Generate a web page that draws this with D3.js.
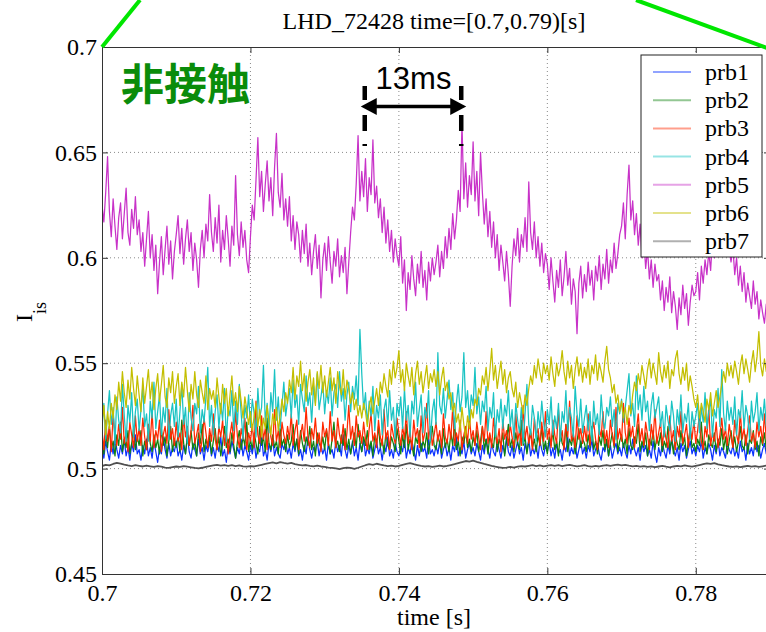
<!DOCTYPE html>
<html>
<head>
<meta charset="utf-8">
<script src="https://cdn.jsdelivr.net/npm/d3@7"></script>
<style>
body { margin: 0; background: #fff; }
svg text { font-family: "Liberation Serif", "Times New Roman", serif; }
</style>
</head>
<body>
<div id="chart"></div>
<script>
// probe names, ticks
var probes = ["prb1", "prb2", "prb3", "prb4", "prb5", "prb6", "prb7"];
var xTicks = [0.7, 0.72, 0.74, 0.76, 0.78];
var xTickLabels = ["0.7", "0.72", "0.74", "0.76", "0.78"];
var yTicks = [0.45, 0.5, 0.55, 0.6, 0.65, 0.7];
var yTickLabels = ["0.45", "0.5", "0.55", "0.6", "0.65", "0.7"];

// every probe array is sampled evenly from 0.7 s to 0.79 s
// (prb1-prb6 every 0.25 ms, prb7 every 0.5 ms)
var tStart = 0.7, tEnd = 0.79;

var prb1 = [
  0.510,0.505,0.513,0.508,0.504,0.512,0.507,0.515,0.509,0.505,0.511,0.507,0.514,0.506,0.510,0.504,0.512,0.508,0.516,0.507,
  0.509,0.504,0.511,0.507,0.514,0.506,0.510,0.505,0.513,0.508,0.503,0.510,0.507,0.515,0.509,0.505,0.512,0.506,0.510,0.508,
  0.513,0.506,0.509,0.504,0.511,0.507,0.516,0.508,0.505,0.512,0.509,0.506,0.514,0.507,0.510,0.504,0.511,0.508,0.513,0.506,
  0.510,0.505,0.512,0.508,0.515,0.506,0.509,0.503,0.511,0.507,0.513,0.509,0.505,0.510,0.507,0.514,0.506,0.511,0.508,0.504,
  0.511,0.507,0.513,0.505,0.510,0.508,0.516,0.506,0.509,0.504,0.512,0.508,0.514,0.506,0.510,0.507,0.505,0.512,0.509,0.513,
  0.507,0.510,0.505,0.512,0.508,0.514,0.506,0.509,0.504,0.511,0.507,0.515,0.509,0.505,0.510,0.508,0.513,0.506,0.511,0.507,
  0.510,0.504,0.512,0.507,0.509,0.505,0.513,0.508,0.511,0.506,0.516,0.509,0.505,0.511,0.507,0.513,0.506,0.510,0.504,0.512,
  0.508,0.514,0.506,0.510,0.507,0.512,0.505,0.509,0.513,0.507,0.510,0.504,0.511,0.508,0.515,0.506,0.509,0.505,0.512,0.508,
  0.506,0.511,0.508,0.514,0.505,0.510,0.507,0.513,0.509,0.504,0.511,0.506,0.512,0.508,0.510,0.505,0.514,0.507,0.509,0.506,
  0.511,0.507,0.513,0.505,0.509,0.512,0.506,0.510,0.504,0.511,0.508,0.515,0.506,0.510,0.507,0.513,0.505,0.509,0.512,0.507,
  0.510,0.506,0.512,0.508,0.504,0.511,0.507,0.514,0.509,0.505,0.512,0.508,0.506,0.513,0.509,0.505,0.511,0.507,0.515,0.508,
  0.506,0.511,0.505,0.509,0.513,0.507,0.510,0.504,0.512,0.508,0.514,0.506,0.510,0.507,0.511,0.505,0.513,0.509,0.506,0.511,
  0.508,0.513,0.506,0.510,0.505,0.512,0.507,0.509,0.504,0.511,0.508,0.515,0.506,0.510,0.507,0.512,0.505,0.509,0.513,0.507,
  0.510,0.505,0.511,0.508,0.514,0.506,0.509,0.512,0.507,0.504,0.510,0.508,0.513,0.506,0.511,0.505,0.509,0.512,0.507,0.510,
  0.506,0.512,0.508,0.505,0.511,0.507,0.514,0.509,0.506,0.510,0.504,0.512,0.508,0.511,0.506,0.509,0.505,0.513,0.507,0.503,
  0.510,0.506,0.512,0.508,0.505,0.511,0.507,0.514,0.509,0.506,0.510,0.504,0.512,0.508,0.511,0.505,0.509,0.513,0.507,0.510,
  0.506,0.511,0.508,0.513,0.505,0.510,0.507,0.512,0.509,0.504,0.511,0.507,0.514,0.506,0.510,0.508,0.505,0.512,0.509,0.507,
  0.511,0.506,0.509,0.505,0.513,0.508,0.510,0.504,0.512,0.507,0.510,0.506,0.514,0.508,0.511,0.505,0.509,0.512,0.507,0.510,
  0.509
];
var prb2 = [
  0.514,0.507,0.517,0.510,0.520,0.509,0.513,0.506,0.516,0.511,0.522,0.508,0.514,0.510,0.518,0.507,0.512,0.519,0.509,0.515,
  0.511,0.518,0.506,0.513,0.509,0.521,0.512,0.508,0.516,0.510,0.514,0.507,0.519,0.511,0.515,0.506,0.513,0.520,0.508,0.514,
  0.510,0.516,0.508,0.523,0.512,0.507,0.515,0.511,0.518,0.509,0.513,0.506,0.517,0.512,0.521,0.508,0.514,0.510,0.516,0.507,
  0.513,0.519,0.509,0.515,0.506,0.512,0.520,0.510,0.514,0.508,0.517,0.511,0.505,0.513,0.518,0.509,0.515,0.511,0.522,0.508,
  0.514,0.509,0.517,0.512,0.507,0.520,0.511,0.515,0.508,0.524,0.512,0.509,0.516,0.510,0.513,0.507,0.519,0.511,0.514,0.508,
  0.516,0.510,0.513,0.521,0.509,0.514,0.507,0.518,0.512,0.508,0.515,0.511,0.520,0.509,0.513,0.506,0.517,0.512,0.510,0.515,
  0.509,0.518,0.512,0.507,0.514,0.522,0.510,0.513,0.508,0.516,0.511,0.519,0.509,0.514,0.507,0.512,0.517,0.510,0.521,0.513,
  0.508,0.515,0.511,0.518,0.509,0.513,0.506,0.516,0.512,0.520,0.510,0.514,0.507,0.517,0.511,0.509,0.515,0.512,0.508,0.519,
  0.513,0.507,0.516,0.510,0.521,0.509,0.514,0.511,0.506,0.515,0.512,0.518,0.508,0.513,0.510,0.517,0.507,0.514,0.520,0.511,
  0.509,0.516,0.512,0.507,0.519,0.510,0.514,0.508,0.517,0.511,0.522,0.509,0.513,0.506,0.515,0.512,0.518,0.510,0.514,0.508,
  0.515,0.511,0.518,0.508,0.513,0.520,0.509,0.514,0.507,0.516,0.512,0.510,0.519,0.508,0.514,0.511,0.517,0.506,0.513,0.521,
  0.510,0.514,0.508,0.517,0.512,0.509,0.523,0.511,0.515,0.507,0.513,0.518,0.510,0.514,0.508,0.516,0.511,0.520,0.509,0.513,
  0.507,0.515,0.511,0.518,0.509,0.513,0.506,0.517,0.512,0.510,0.521,0.508,0.514,0.511,0.516,0.507,0.513,0.519,0.510,0.514,
  0.512,0.508,0.516,0.510,0.520,0.509,0.513,0.507,0.515,0.511,0.518,0.509,0.514,0.506,0.512,0.517,0.510,0.522,0.508,0.513,
  0.516,0.510,0.514,0.507,0.519,0.511,0.509,0.515,0.512,0.521,0.508,0.513,0.510,0.517,0.506,0.514,0.511,0.518,0.509,0.515,
  0.511,0.517,0.508,0.513,0.510,0.520,0.509,0.514,0.507,0.516,0.512,0.509,0.518,0.511,0.515,0.506,0.513,0.519,0.510,0.512,
  0.508,0.514,0.511,0.522,0.509,0.513,0.507,0.516,0.512,0.510,0.517,0.508,0.514,0.511,0.519,0.509,0.515,0.507,0.513,0.518,
  0.510,0.515,0.508,0.513,0.520,0.511,0.509,0.516,0.507,0.514,0.512,0.518,0.509,0.513,0.506,0.515,0.511,0.517,0.509,0.514,
  0.512
];
var prb3 = [
  0.518,0.509,0.523,0.513,0.520,0.508,0.526,0.515,0.511,0.521,0.514,0.529,0.512,0.517,0.508,0.522,0.516,0.510,0.525,0.513,
  0.519,0.511,0.524,0.515,0.509,0.521,0.513,0.527,0.510,0.518,0.514,0.523,0.508,0.516,0.520,0.512,0.528,0.514,0.519,0.511,
  0.522,0.513,0.517,0.509,0.525,0.515,0.520,0.511,0.518,0.530,0.512,0.516,0.521,0.508,0.514,0.524,0.517,0.510,0.519,0.513,
  0.526,0.514,0.509,0.520,0.515,0.523,0.511,0.518,0.507,0.516,0.522,0.512,0.527,0.515,0.510,0.519,0.514,0.524,0.509,0.517,
  0.513,0.521,0.510,0.532,0.516,0.512,0.525,0.514,0.519,0.509,0.523,0.515,0.511,0.528,0.513,0.518,0.510,0.522,0.516,0.512,
  0.520,0.514,0.526,0.511,0.518,0.523,0.509,0.516,0.521,0.513,0.529,0.515,0.510,0.519,0.514,0.524,0.512,0.517,0.508,0.522,
  0.515,0.519,0.511,0.527,0.513,0.518,0.510,0.524,0.516,0.512,0.521,0.509,0.517,0.530,0.514,0.520,0.511,0.525,0.515,0.518,
  0.512,0.522,0.514,0.509,0.519,0.526,0.513,0.517,0.510,0.523,0.515,0.511,0.528,0.514,0.518,0.509,0.521,0.516,0.512,0.524,
  0.517,0.511,0.520,0.514,0.527,0.512,0.518,0.509,0.523,0.515,0.519,0.510,0.525,0.513,0.517,0.531,0.514,0.520,0.511,0.516,
  0.522,0.513,0.518,0.510,0.526,0.515,0.512,0.521,0.514,0.529,0.511,0.517,0.513,0.523,0.509,0.516,0.520,0.512,0.525,0.514,
  0.518,0.511,0.522,0.515,0.509,0.520,0.513,0.527,0.512,0.517,0.510,0.524,0.516,0.512,0.519,0.508,0.523,0.514,0.518,0.511,
  0.521,0.515,0.510,0.526,0.513,0.518,0.511,0.530,0.514,0.520,0.512,0.517,0.509,0.524,0.515,0.519,0.511,0.522,0.513,0.527,
  0.514,0.519,0.510,0.523,0.516,0.512,0.528,0.514,0.518,0.509,0.521,0.515,0.532,0.513,0.517,0.510,0.525,0.514,0.519,0.512,
  0.520,0.513,0.526,0.511,0.517,0.522,0.514,0.509,0.519,0.515,0.527,0.512,0.518,0.510,0.523,0.516,0.511,0.529,0.514,0.519,
  0.513,0.531,0.517,0.512,0.524,0.515,0.520,0.510,0.518,0.526,0.513,0.519,0.511,0.522,0.516,0.509,0.521,0.514,0.528,0.512,
  0.517,0.522,0.511,0.519,0.514,0.510,0.525,0.513,0.518,0.509,0.520,0.515,0.527,0.512,0.516,0.521,0.510,0.519,0.514,0.523,
  0.512,0.518,0.526,0.513,0.509,0.520,0.515,0.529,0.511,0.517,0.513,0.522,0.510,0.516,0.524,0.514,0.519,0.511,0.521,0.515,
  0.510,0.523,0.516,0.512,0.527,0.514,0.519,0.511,0.518,0.525,0.513,0.517,0.510,0.522,0.515,0.520,0.512,0.526,0.514,0.518,
  0.516
];
var prb4 = [
  0.519,0.531,0.514,0.526,0.537,0.521,0.529,0.512,0.534,0.523,0.517,0.540,0.525,0.513,0.530,0.522,0.536,0.515,0.527,0.533,
  0.518,0.528,0.539,0.520,0.526,0.513,0.532,0.524,0.541,0.519,0.527,0.535,0.516,0.529,0.522,0.538,0.514,0.525,0.531,0.520,
  0.533,0.515,0.527,0.540,0.521,0.529,0.512,0.536,0.524,0.518,0.531,0.526,0.539,0.517,0.528,0.522,0.534,0.548,0.520,0.530,
  0.516,0.527,0.535,0.519,0.531,0.523,0.538,0.513,0.529,0.525,0.537,0.518,0.532,0.521,0.540,0.526,0.514,0.530,0.524,0.535,
  0.520,0.533,0.526,0.515,0.538,0.524,0.529,0.549,0.522,0.531,0.517,0.536,0.527,0.547,0.523,0.534,0.519,0.530,0.541,0.525,
  0.532,0.538,0.524,0.542,0.529,0.535,0.521,0.540,0.533,0.527,0.544,0.530,0.536,0.522,0.539,0.531,0.545,0.528,0.534,0.541,
  0.526,0.537,0.531,0.543,0.525,0.536,0.540,0.529,0.546,0.532,0.538,0.523,0.535,0.541,0.527,0.539,0.533,0.544,0.530,0.566,
  0.545,0.528,0.536,0.521,0.532,0.525,0.539,0.518,0.530,0.524,0.535,0.516,0.528,0.533,0.520,0.537,0.523,0.529,0.514,0.531,
  0.525,0.534,0.519,0.538,0.523,0.530,0.515,0.532,0.526,0.541,0.520,0.528,0.535,0.517,0.529,0.524,0.537,0.513,0.527,0.533,
  0.521,0.555,0.530,0.526,0.538,0.524,0.533,0.542,0.528,0.536,0.519,0.531,0.540,0.527,0.534,0.555,0.529,0.537,0.523,0.535,
  0.530,0.548,0.526,0.534,0.521,0.532,0.527,0.539,0.518,0.529,0.524,0.536,0.515,0.528,0.522,0.533,0.519,0.530,0.525,0.537,
  0.520,0.528,0.514,0.531,0.523,0.517,0.529,0.512,0.526,0.540,0.521,0.516,0.530,0.524,0.513,0.527,0.519,0.532,0.522,0.515,
  0.528,0.521,0.534,0.516,0.525,0.519,0.531,0.513,0.527,0.522,0.537,0.518,0.529,0.524,0.515,0.539,0.526,0.520,0.533,0.517,
  0.524,0.530,0.518,0.527,0.513,0.532,0.521,0.526,0.516,0.535,0.523,0.519,0.529,0.525,0.534,0.520,0.528,0.514,0.531,0.526,
  0.533,0.522,0.529,0.537,0.545,0.525,0.531,0.520,0.544,0.528,0.535,0.523,0.539,0.527,0.532,0.518,0.530,0.536,0.524,0.529,
  0.534,0.520,0.527,0.515,0.530,0.523,0.518,0.532,0.525,0.513,0.528,0.521,0.535,0.517,0.526,0.522,0.531,0.514,0.527,0.520,
  0.525,0.531,0.517,0.529,0.522,0.536,0.519,0.527,0.533,0.515,0.528,0.524,0.538,0.520,0.547,0.526,0.518,0.532,0.523,0.529,
  0.521,0.534,0.516,0.528,0.524,0.537,0.519,0.530,0.525,0.514,0.532,0.522,0.527,0.536,0.518,0.529,0.523,0.533,0.520,0.528,
  0.525
];
var prb5 = [
  0.625,0.617,0.631,0.648,0.622,0.610,0.628,0.615,0.604,0.619,0.626,0.609,0.621,0.633,0.612,0.606,0.623,0.614,0.629,0.611,
  0.618,0.603,0.612,0.596,0.609,0.622,0.600,0.611,0.594,0.606,0.583,0.598,0.610,0.592,0.604,0.615,0.597,0.608,0.590,0.603,
  0.611,0.620,0.602,0.614,0.597,0.609,0.618,0.603,0.612,0.594,0.607,0.599,0.586,0.604,0.613,0.600,0.616,0.608,0.630,0.612,
  0.603,0.619,0.607,0.625,0.598,0.613,0.604,0.620,0.609,0.596,0.615,0.606,0.639,0.611,0.601,0.617,0.605,0.613,0.599,0.593,
  0.610,0.625,0.618,0.637,0.657,0.629,0.641,0.622,0.635,0.646,0.627,0.638,0.620,0.643,0.659,0.631,0.624,0.640,0.618,0.628,
  0.615,0.629,0.608,0.620,0.604,0.617,0.611,0.598,0.613,0.602,0.616,0.596,0.607,0.592,0.603,0.611,0.595,0.606,0.581,0.599,
  0.607,0.594,0.610,0.598,0.588,0.603,0.596,0.609,0.591,0.601,0.593,0.605,0.583,0.598,0.612,0.624,0.618,0.635,0.658,0.627,
  0.641,0.629,0.647,0.622,0.638,0.630,0.656,0.626,0.634,0.619,0.628,0.612,0.624,0.607,0.618,0.603,0.613,0.598,0.609,0.601,
  0.596,0.610,0.588,0.599,0.575,0.593,0.585,0.601,0.590,0.582,0.597,0.588,0.603,0.586,0.594,0.580,0.598,0.589,0.600,0.592,
  0.598,0.606,0.591,0.603,0.595,0.610,0.600,0.614,0.604,0.621,0.609,0.618,0.632,0.622,0.664,0.628,0.645,0.624,0.639,0.630,
  0.655,0.627,0.641,0.620,0.650,0.631,0.616,0.628,0.610,0.622,0.605,0.617,0.600,0.611,0.594,0.606,0.598,0.589,0.603,0.592,
  0.577,0.596,0.609,0.601,0.614,0.598,0.611,0.605,0.619,0.603,0.636,0.612,0.604,0.617,0.600,0.610,0.596,0.607,0.593,0.602,
  0.597,0.585,0.600,0.589,0.579,0.594,0.586,0.599,0.582,0.591,0.603,0.587,0.595,0.578,0.590,0.584,0.564,0.588,0.596,0.581,
  0.592,0.584,0.598,0.587,0.594,0.580,0.596,0.589,0.601,0.585,0.597,0.590,0.604,0.588,0.599,0.593,0.607,0.595,0.602,0.611,
  0.615,0.626,0.609,0.630,0.644,0.618,0.627,0.611,0.621,0.606,0.616,0.600,0.609,0.595,0.604,0.590,0.599,0.586,0.597,0.589,
  0.592,0.580,0.589,0.575,0.586,0.579,0.591,0.574,0.584,0.577,0.566,0.581,0.573,0.587,0.576,0.583,0.568,0.579,0.587,0.582,
  0.584,0.593,0.580,0.596,0.588,0.599,0.592,0.603,0.594,0.609,0.600,0.612,0.603,0.617,0.606,0.612,0.601,0.615,0.604,0.598,
  0.605,0.592,0.600,0.587,0.596,0.584,0.593,0.579,0.588,0.582,0.576,0.589,0.578,0.584,0.571,0.580,0.574,0.569,0.578,0.572,
  0.573
];
var prb6 = [
  0.521,0.530,0.516,0.527,0.519,0.531,0.524,0.535,0.528,0.541,0.532,0.546,0.536,0.529,0.542,0.533,0.548,0.538,0.530,0.544,
  0.535,0.527,0.543,0.531,0.539,0.547,0.533,0.541,0.528,0.538,0.545,0.532,0.540,0.549,0.534,0.529,0.543,0.536,0.546,0.531,
  0.539,0.545,0.530,0.541,0.534,0.548,0.537,0.527,0.540,0.533,0.546,0.535,0.529,0.542,0.536,0.531,0.544,0.528,0.538,0.533,
  0.537,0.529,0.543,0.534,0.526,0.540,0.531,0.538,0.525,0.535,0.544,0.530,0.536,0.527,0.539,0.532,0.524,0.534,0.528,0.521,
  0.527,0.518,0.525,0.531,0.520,0.528,0.515,0.524,0.519,0.530,0.522,0.516,0.526,0.521,0.529,0.518,0.525,0.533,0.527,0.536,
  0.531,0.542,0.536,0.548,0.533,0.544,0.539,0.551,0.537,0.545,0.532,0.541,0.547,0.535,0.543,0.530,0.546,0.538,0.549,0.536,
  0.544,0.534,0.541,0.548,0.537,0.543,0.531,0.546,0.539,0.535,0.547,0.533,0.542,0.538,0.531,0.536,0.528,0.533,0.525,0.530,
  0.524,0.531,0.527,0.520,0.529,0.534,0.526,0.532,0.538,0.530,0.541,0.536,0.545,0.539,0.534,0.547,0.540,0.551,0.543,0.548,
  0.556,0.541,0.547,0.537,0.550,0.544,0.539,0.548,0.535,0.545,0.551,0.540,0.546,0.536,0.543,0.549,0.538,0.545,0.541,0.547,
  0.539,0.546,0.535,0.543,0.548,0.537,0.541,0.533,0.536,0.527,0.531,0.522,0.526,0.518,0.529,0.521,0.515,0.525,0.519,0.528,
  0.524,0.533,0.530,0.538,0.535,0.544,0.540,0.548,0.537,0.546,0.557,0.542,0.549,0.538,0.545,0.551,0.540,0.547,0.536,0.543,
  0.546,0.538,0.534,0.541,0.529,0.536,0.531,0.526,0.535,0.530,0.538,0.544,0.540,0.549,0.543,0.552,0.546,0.541,0.550,0.545,
  0.549,0.542,0.553,0.545,0.539,0.550,0.544,0.548,0.556,0.546,0.540,0.551,0.543,0.549,0.538,0.547,0.553,0.544,0.550,0.541,
  0.548,0.543,0.552,0.540,0.549,0.545,0.554,0.542,0.550,0.546,0.541,0.551,0.558,0.547,0.543,0.536,0.540,0.531,0.535,0.527,
  0.532,0.524,0.529,0.521,0.530,0.526,0.535,0.541,0.537,0.545,0.540,0.549,0.544,0.538,0.547,0.552,0.543,0.550,0.545,0.540,
  0.555,0.546,0.541,0.549,0.543,0.551,0.538,0.547,0.544,0.552,0.556,0.545,0.540,0.548,0.542,0.550,0.537,0.544,0.539,0.533,
  0.529,0.535,0.524,0.531,0.527,0.522,0.533,0.528,0.536,0.525,0.531,0.537,0.529,0.534,0.540,0.546,0.541,0.550,0.544,0.549,
  0.543,0.551,0.546,0.540,0.549,0.554,0.545,0.552,0.547,0.541,0.550,0.556,0.546,0.553,0.565,0.549,0.544,0.552,0.546,0.550,
  0.545
];
var prb7 = [
  0.5012,0.5018,0.5015,0.5022,0.5027,0.5024,0.5019,0.5015,0.5012,0.5016,
  0.5013,0.5010,0.5014,0.5011,0.5008,0.5012,0.5009,0.5005,0.5003,0.5007,
  0.5010,0.5008,0.5012,0.5009,0.5006,0.5003,0.5001,0.5004,0.5008,0.5012,
  0.5015,0.5018,0.5014,0.5017,0.5013,0.5016,0.5012,0.5015,0.5011,0.5009,
  0.5012,0.5010,0.5014,0.5018,0.5022,0.5026,0.5029,0.5025,0.5031,0.5027,
  0.5024,0.5027,0.5021,0.5018,0.5015,0.5017,0.5013,0.5011,0.5014,0.5010,
  0.5008,0.5005,0.5003,0.5001,0.4998,0.5002,0.5005,0.5003,0.4999,0.5004,
  0.5010,0.5016,0.5021,0.5018,0.5023,0.5019,0.5015,0.5012,0.5014,0.5010,
  0.5013,0.5018,0.5022,0.5026,0.5021,0.5017,0.5013,0.5010,0.5012,0.5008,
  0.5011,0.5014,0.5010,0.5013,0.5017,0.5021,0.5026,0.5031,0.5036,0.5033,
  0.5038,0.5032,0.5027,0.5022,0.5018,0.5013,0.5009,0.5006,0.5003,0.5005,
  0.5008,0.5005,0.5009,0.5012,0.5010,0.5013,0.5016,0.5012,0.5015,0.5011,
  0.5014,0.5017,0.5013,0.5016,0.5012,0.5015,0.5018,0.5014,0.5011,0.5013,
  0.5016,0.5012,0.5009,0.5013,0.5010,0.5014,0.5017,0.5013,0.5016,0.5019,
  0.5015,0.5018,0.5014,0.5011,0.5013,0.5009,0.5012,0.5008,0.5011,0.5007,
  0.5010,0.5013,0.5009,0.5006,0.5010,0.5013,0.5011,0.5015,0.5012,0.5009,
  0.5013,0.5017,0.5021,0.5025,0.5022,0.5026,0.5020,0.5016,0.5013,0.5010,
  0.5008,0.5011,0.5007,0.5010,0.5013,0.5009,0.5012,0.5008,0.5011,0.5014,0.5010
];

// times of the two marked peaks (13 ms apart)
var peakTimes = [0.7354, 0.7484];

var series = [prb1, prb2, prb3, prb4, prb5, prb6, prb7];
var colors = ["#0a32ff", "#0f820f", "#ff2800", "#19c3c3", "#c832c8", "#c3be00", "#505050"];

var W = 766, H = 632;
var margin = {top: 47, right: -4, bottom: 58, left: 102};
var width = W - margin.left - margin.right,
    height = H - margin.top - margin.bottom;

var svg = d3.select("#chart")
  .append("svg")
  .attr("width", W)
  .attr("height", H)
  .style("display", "block");

svg.append("rect").attr("width", W).attr("height", H).attr("fill", "#fff");

var g = svg.append("g")
  .attr("transform", "translate(" + margin.left + "," + margin.top + ")");

var x = d3.scaleLinear().domain([0.7, 0.79]).range([0, width]);
var y = d3.scaleLinear().domain([0.45, 0.7]).range([height, 0]);

g.append("clipPath").attr("id", "plotclip")
  .append("rect").attr("width", width).attr("height", height);

// dotted grid
g.append("g")
  .selectAll("line")
  .data(xTicks.slice(1))
  .join("line")
  .attr("x1", d => x(d)).attr("x2", d => x(d))
  .attr("y1", 0).attr("y2", height)
  .attr("stroke", "#8a8a8a")
  .attr("stroke-dasharray", "1,3");

g.append("g")
  .selectAll("line")
  .data(yTicks.slice(1, -1))
  .join("line")
  .attr("x1", 0).attr("x2", width)
  .attr("y1", d => y(d)).attr("y2", d => y(d))
  .attr("stroke", "#8a8a8a")
  .attr("stroke-dasharray", "1,3");

// the signals
function sampleTime(i, n) {
  return tStart + i * (tEnd - tStart) / (n - 1);
}
var line = d3.line()
  .x((d, i, arr) => x(sampleTime(i, arr.length)))
  .y(d => y(d));

g.append("g")
  .attr("clip-path", "url(#plotclip)")
  .selectAll("path")
  .data(series)
  .join("path")
  .attr("d", line)
  .attr("fill", "none")
  .attr("stroke", (d, i) => colors[i])
  .attr("stroke-width", (d, i) => i == 6 ? 1.8 : 1.25)
  .attr("stroke-linejoin", "round");

// axes
function styleAxis(sel) {
  sel.select(".domain").attr("stroke", "#333");
  sel.selectAll(".tick line").attr("stroke", "#333");
  sel.selectAll("text")
    .attr("fill", "#000")
    .style("font-family", "'Liberation Serif','Times New Roman',serif")
    .style("font-size", "24px");
}

g.append("g")
  .attr("transform", "translate(0," + height + ")")
  .call(d3.axisBottom(x).tickValues(xTicks).tickSizeInner(-6).tickSizeOuter(0).tickPadding(10)
    .tickFormat((d, i) => xTickLabels[i]))
  .call(styleAxis);

g.append("g")
  .call(d3.axisLeft(y).tickValues(yTicks).tickSizeInner(-6).tickSizeOuter(0).tickPadding(5)
    .tickFormat((d, i) => yTickLabels[i]))
  .call(styleAxis);

g.append("g")
  .call(d3.axisTop(x).tickValues(xTicks).tickSizeInner(-6).tickSizeOuter(0).tickFormat(""))
  .call(styleAxis);

g.append("g")
  .attr("transform", "translate(" + width + ",0)")
  .call(d3.axisRight(y).tickValues(yTicks).tickSizeInner(-6).tickSizeOuter(0).tickFormat(""))
  .call(styleAxis);

// title and labels
svg.append("text")
  .attr("x", 434).attr("y", 29)
  .attr("text-anchor", "middle")
  .style("font-size", "24px")
  .text("LHD_72428 time=[0.7,0.79)[s]");

svg.append("text")
  .attr("x", 434).attr("y", 625)
  .attr("text-anchor", "middle")
  .style("font-size", "24px")
  .text("time [s]");

var yl = svg.append("text")
  .attr("transform", "translate(32,312) rotate(-90)")
  .attr("text-anchor", "middle")
  .style("font-size", "24px");
yl.append("tspan").text("I");
yl.append("tspan").attr("dy", 14).style("font-size", "18px").text("is");

// legend
var legend = svg.append("g").attr("transform", "translate(641,55)");
legend.append("rect")
  .attr("width", 121).attr("height", 202)
  .attr("fill", "#fff").attr("stroke", "#222");
var items = legend.selectAll("g.item")
  .data(probes)
  .join("g")
  .attr("class", "item")
  .attr("transform", (d, i) => "translate(0," + (17 + i * 28.2) + ")");
items.append("line")
  .attr("x1", 12).attr("x2", 50)
  .attr("stroke", (d, i) => colors[i])
  .attr("stroke-opacity", 0.45)
  .attr("stroke-width", 2);
items.append("text")
  .attr("x", 64).attr("y", 8)
  .style("font-size", "24px")
  .text(d => d);

// green zoom guide lines
svg.append("line")
  .attr("x1", margin.left).attr("y1", margin.top)
  .attr("x2", 140).attr("y2", 0)
  .attr("stroke", "#00e600").attr("stroke-width", 4);
svg.append("line")
  .attr("x1", 636).attr("y1", 0)
  .attr("x2", 770).attr("y2", 49)
  .attr("stroke", "#00e600").attr("stroke-width", 4);

// annotations
svg.append("text")
  .attr("x", 121).attr("y", 100)
  .attr("fill", "#0a8c0a")
  .style("font-family", "'Noto Sans CJK JP','Noto Sans CJK SC',sans-serif")
  .style("font-weight", "bold")
  .style("font-size", "43px")
  .text("非接触");

var ann = g.append("g");
ann.selectAll("path.mark")
  .data(peakTimes)
  .join("path")
  .attr("class", "mark")
  .attr("d", d => "M" + x(d) + "," + (86 - margin.top) + "V" + (147 - margin.top))
  .attr("stroke", "#000")
  .attr("stroke-width", 4.5)
  .attr("stroke-dasharray", "14,15,16,13,2");

var ay = 106.5 - margin.top;
var xa = x(peakTimes[0]) - 4, xb = x(peakTimes[1]) + 5;
ann.append("line")
  .attr("x1", xa + 10).attr("x2", xb - 10)
  .attr("y1", ay).attr("y2", ay)
  .attr("stroke", "#000").attr("stroke-width", 3.5);
ann.append("path")
  .attr("d", "M" + xa + "," + ay + "L" + (xa + 16) + "," + (ay - 8.5) + "L" + (xa + 16) + "," + (ay + 8.5) + "Z")
  .attr("fill", "#000");
ann.append("path")
  .attr("d", "M" + xb + "," + ay + "L" + (xb - 16) + "," + (ay - 8.5) + "L" + (xb - 16) + "," + (ay + 8.5) + "Z")
  .attr("fill", "#000");
ann.append("text")
  .attr("x", (xa + xb) / 2).attr("y", 89 - margin.top)
  .attr("text-anchor", "middle")
  .style("font-family", "'Liberation Sans',Arial,sans-serif")
  .style("font-size", "31px")
  .text("13ms");
</script>
</body>
</html>
